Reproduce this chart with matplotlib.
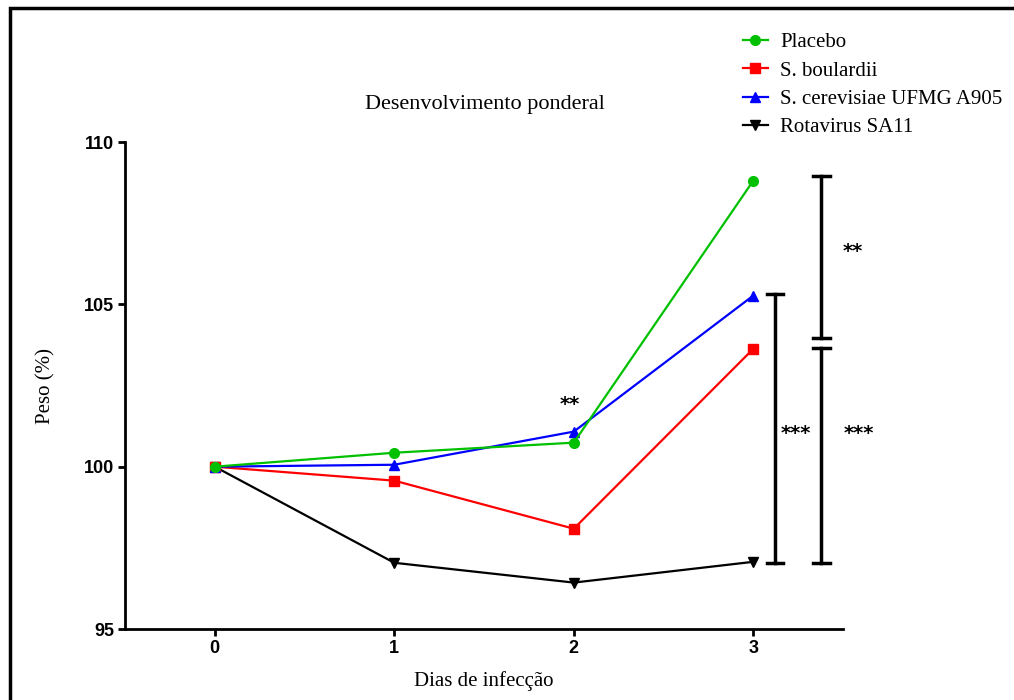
import matplotlib.pyplot as plt
from matplotlib.patches import Rectangle

days = [0, 1, 2, 3]
placebo = [100.0, 100.43, 100.74, 108.81]
boulardii = [100.0, 99.57, 98.09, 103.63]
cerevisiae = [100.0, 100.06, 101.08, 105.27]
rotavirus = [100.0, 97.04, 96.43, 97.07]

# significance brackets: (x, y_bottom, y_top)
brackets = [(3.123, 97.04, 105.33), (3.38, 103.97, 108.96), (3.38, 97.04, 103.66)]
# star labels: (x, y, text)
stars = [(3.235, 101.1, '***'), (3.59, 101.1, '***'), (3.555, 106.7, '**'), (1.98, 102.0, '**')]

serif = 'Liberation Serif'

fig = plt.figure(figsize=(10.14, 7), dpi=100)
ax = fig.add_axes([0.1233, 0.1014, 0.7081, 0.6957])

ax.plot(days, rotavirus, color='black', marker='v', markersize=7, lw=1.6, label='Rotavirus SA11')
ax.plot(days, boulardii, color='#ff0000', marker='s', markersize=7, lw=1.6, label='S. boulardii')
ax.plot(days, cerevisiae, color='#0000ff', marker='^', markersize=7, lw=1.6, label='S. cerevisiae UFMG A905')
ax.plot(days, placebo, color='#00c000', marker='o', markersize=7, lw=1.6, label='Placebo')

cap = 0.045
for x, y0, y1 in brackets:
    ax.plot([x, x], [y0, y1], color='black', lw=2.5, clip_on=False)
    ax.plot([x - cap, x + cap], [y0, y0], color='black', lw=2.5, clip_on=False)
    ax.plot([x - cap, x + cap], [y1, y1], color='black', lw=2.5, clip_on=False)

for x, y, t in stars:
    ax.text(x, y - 0.07, t, ha='center', va='center', fontsize=14, fontweight='bold',
            family='DejaVu Sans', clip_on=False)

ax.set_xlim(-0.5, 3.5)
ax.set_ylim(95, 110)
ax.set_xticks(days)
ax.set_yticks([95, 100, 105, 110])
for lbl in ax.get_xticklabels() + ax.get_yticklabels():
    lbl.set_family('Liberation Sans')
    lbl.set_fontweight('bold')
    lbl.set_fontsize(13)
ax.tick_params(width=2, length=5, pad=3)
for s in ['top', 'right']:
    ax.spines[s].set_visible(False)
for s in ['left', 'bottom']:
    ax.spines[s].set_linewidth(2)

ax.set_xlabel('Dias de infecção', family=serif, fontsize=15, labelpad=10)
ax.set_ylabel('Peso (%)', family=serif, fontsize=15, labelpad=20)
fig.text(0.478, 0.85, 'Desenvolvimento ponderal', family=serif, fontsize=16,
         ha='center', va='center')

h, l = ax.get_legend_handles_labels()
order = [3, 1, 2, 0]
fig.legend([h[i] for i in order], [l[i] for i in order], loc='upper left',
           bbox_to_anchor=(0.714, 0.98), frameon=False, prop={'family': serif, 'size': 15},
           handlelength=1.2, handletextpad=0.6, labelspacing=0.42)

fig.patches.append(Rectangle((10 / 1014, -0.1), 1.2, (692 + 70) / 700, transform=fig.transFigure,
                             fill=False, edgecolor='black', lw=2.5))

fig.savefig('out.png', dpi=100)
